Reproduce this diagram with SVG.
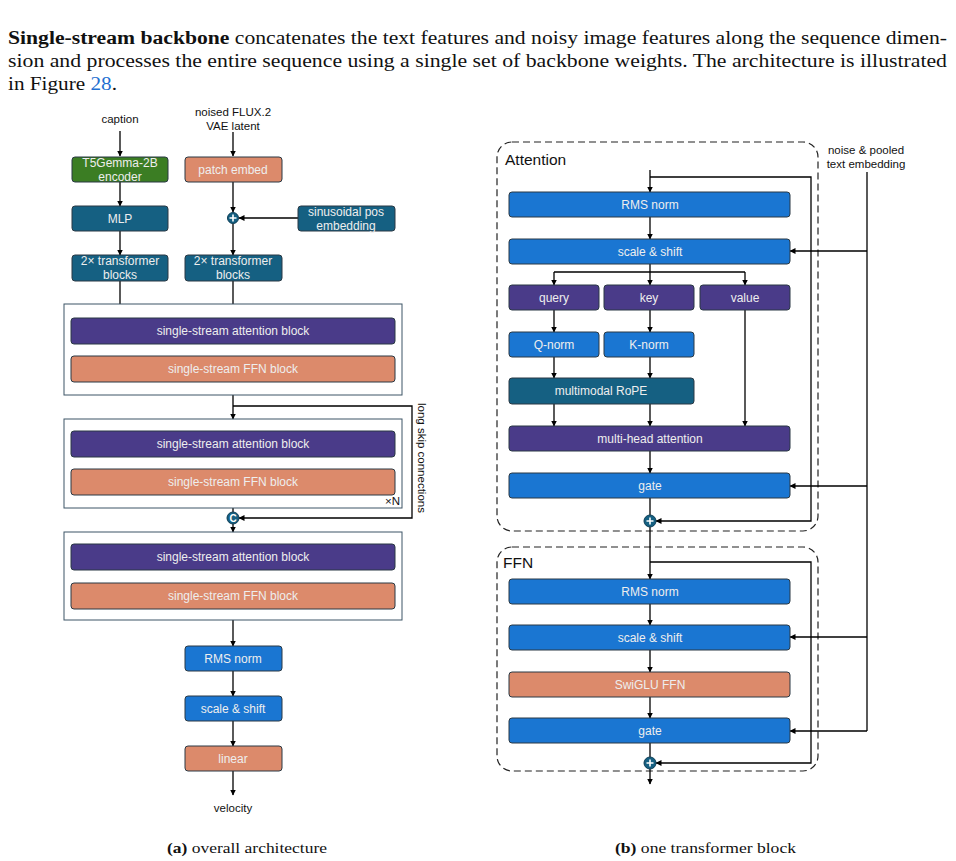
<svg xmlns="http://www.w3.org/2000/svg" width="956" height="861" viewBox="0 0 956 861">
<defs>
<marker id="ah" viewBox="0 0 6 6" refX="5.5" refY="3" markerWidth="6" markerHeight="6" markerUnits="userSpaceOnUse" orient="auto">
<path d="M0,0 L6,3 L0,6 z" fill="#000"/>
</marker>
<style>
.para{font-family:"Liberation Serif","DejaVu Serif",serif;font-size:18.5px;fill:#111}
.cap{font-family:"Liberation Serif","DejaVu Serif",serif;font-size:15.5px;fill:#111}
.lbl{font-family:"Liberation Sans",Arial,sans-serif;font-size:11.5px;fill:#111}
.t{font-family:"Liberation Sans",Arial,sans-serif;font-size:12px;fill:#eeeeee;text-anchor:middle;dominant-baseline:central}
.hd{font-family:"Liberation Sans",Arial,sans-serif;font-size:15.5px;fill:#111}
.box{stroke:#2a3944;stroke-width:1}
.blue{fill:#1a76d2}
.purple{fill:#4a3b89}
.teal{fill:#156082}
.salmon{fill:#dc8a6b}
.green{fill:#3b7d23}
.cont{fill:none;stroke:#3d5566;stroke-width:1}
.dash{fill:none;stroke:#222;stroke-width:1.2;stroke-dasharray:7,4}
.ln{fill:none;stroke:#000;stroke-width:1.3}
.arr{fill:none;stroke:#000;stroke-width:1.3;marker-end:url(#ah)}
.op{fill:#156082;stroke:#0d3d55;stroke-width:1}
.opt{font-family:"Liberation Sans",Arial,sans-serif;font-size:10px;font-weight:bold;fill:#fff;text-anchor:middle;dominant-baseline:central}
</style>
</defs>
<rect width="956" height="861" fill="#fff"/>

<!-- paragraph -->
<text class="para" x="8" y="44" textLength="939" lengthAdjust="spacingAndGlyphs"><tspan font-weight="bold">Single-stream backbone</tspan> concatenates the text features and noisy image features along the sequence dimen-</text>
<text class="para" x="8" y="67" textLength="939" lengthAdjust="spacingAndGlyphs">sion and processes the entire sequence using a single set of backbone weights. The architecture is illustrated</text>
<text class="para" x="8" y="90" textLength="109" lengthAdjust="spacingAndGlyphs">in Figure <tspan fill="#1f6fd1">28</tspan>.</text>

<!-- ===== (a) overall architecture ===== -->
<g id="connectors-a">
<line class="arr" x1="120" y1="131" x2="120" y2="156"/>
<line class="arr" x1="233" y1="132" x2="233" y2="156"/>
<line class="arr" x1="120" y1="182" x2="120" y2="206"/>
<line class="arr" x1="233" y1="182" x2="233" y2="212"/>
<line class="arr" x1="298" y1="218" x2="239" y2="218"/>
<line class="arr" x1="120" y1="231" x2="120" y2="255"/>
<line class="arr" x1="233" y1="224" x2="233" y2="255"/>
<line class="ln" x1="120" y1="281" x2="120" y2="304"/>
<line class="ln" x1="233" y1="281" x2="233" y2="304"/>
<line class="arr" x1="233" y1="395" x2="233" y2="419"/>
<polyline class="arr" points="233,406 412,406 412,518 239,518"/>
<line class="ln" x1="233" y1="508" x2="233" y2="512"/>
<line class="arr" x1="233" y1="524" x2="233" y2="532"/>
<line class="arr" x1="233" y1="620" x2="233" y2="646"/>
<line class="arr" x1="233" y1="671" x2="233" y2="696"/>
<line class="arr" x1="233" y1="721" x2="233" y2="746"/>
<line class="arr" x1="233" y1="771" x2="233" y2="795"/>
</g>

<text class="lbl" x="120" y="123" text-anchor="middle">caption</text>
<text class="lbl" x="233" y="116" text-anchor="middle">noised FLUX.2</text>
<text class="lbl" x="233" y="130" text-anchor="middle">VAE latent</text>

<g id="t5gemma"><rect class="box green" x="72" y="157" width="96" height="25" rx="3"/><text class="t" x="120" y="163">T5Gemma-2B</text><text class="t" x="120" y="177">encoder</text></g>
<g id="patch-embed"><rect class="box salmon" x="185" y="157" width="97" height="25" rx="3"/><text class="t" x="233" y="170">patch embed</text></g>
<g id="mlp"><rect class="box teal" x="72" y="206" width="96" height="25" rx="3"/><text class="t" x="120" y="219">MLP</text></g>
<g id="plus-a"><circle class="op" cx="233" cy="218" r="5.5"/><path d="M229.5,218 H236.5 M233,214.5 V221.5" stroke="#fff" stroke-width="1.6"/></g>
<g id="sinus"><rect class="box teal" x="298" y="206" width="97" height="25" rx="3"/><text class="t" x="346" y="212">sinusoidal pos</text><text class="t" x="346" y="226">embedding</text></g>
<g id="tb-left"><rect class="box teal" x="72" y="255" width="96" height="26" rx="3"/><text class="t" x="120" y="261">2× transformer</text><text class="t" x="120" y="275">blocks</text></g>
<g id="tb-right"><rect class="box teal" x="185" y="255" width="97" height="26" rx="3"/><text class="t" x="233" y="261">2× transformer</text><text class="t" x="233" y="275">blocks</text></g>

<g id="stack1">
<rect class="cont" x="64" y="304" width="338" height="91"/>
<rect class="box purple" x="71" y="318" width="324" height="26" rx="3"/><text class="t" x="233" y="331">single-stream attention block</text>
<rect class="box salmon" x="71" y="356" width="324" height="26" rx="3"/><text class="t" x="233" y="369">single-stream FFN block</text>
</g>
<g id="stack2">
<rect class="cont" x="64" y="419" width="338" height="89"/>
<rect class="box purple" x="71" y="431" width="324" height="26" rx="3"/><text class="t" x="233" y="444">single-stream attention block</text>
<rect class="box salmon" x="71" y="469" width="324" height="26" rx="3"/><text class="t" x="233" y="482">single-stream FFN block</text>
<text class="lbl" x="400" y="505" text-anchor="end" font-size="11">×N</text>
</g>
<g id="concat"><circle class="op" cx="233" cy="518" r="6"/><text class="opt" x="233" y="518.5" font-size="9">C</text></g>
<text class="lbl" transform="translate(418,403) rotate(90)" font-size="11.5">long skip connections</text>
<g id="stack3">
<rect class="cont" x="64" y="532" width="338" height="88"/>
<rect class="box purple" x="71" y="544" width="324" height="26" rx="3"/><text class="t" x="233" y="557">single-stream attention block</text>
<rect class="box salmon" x="71" y="583" width="324" height="26" rx="3"/><text class="t" x="233" y="596">single-stream FFN block</text>
</g>
<g id="rms-a"><rect class="box blue" x="185" y="646" width="97" height="25" rx="3"/><text class="t" x="233" y="659">RMS norm</text></g>
<g id="ss-a"><rect class="box blue" x="185" y="696" width="97" height="25" rx="3"/><text class="t" x="233" y="709">scale &amp; shift</text></g>
<g id="linear-a"><rect class="box salmon" x="185" y="746" width="97" height="25" rx="3"/><text class="t" x="233" y="759">linear</text></g>
<text class="lbl" x="233" y="812" text-anchor="middle">velocity</text>

<text class="cap" x="167" y="853" textLength="160" lengthAdjust="spacingAndGlyphs"><tspan font-weight="bold">(a)</tspan> overall architecture</text>

<!-- ===== (b) one transformer block ===== -->
<rect class="dash" x="497" y="142" width="321" height="389" rx="15"/>
<text class="hd" x="505" y="165">Attention</text>
<rect class="dash" x="497" y="547" width="321" height="224" rx="15"/>
<text class="hd" x="503" y="568">FFN</text>
<text class="lbl" x="866" y="154" text-anchor="middle">noise &amp; pooled</text>
<text class="lbl" x="866" y="168" text-anchor="middle">text embedding</text>

<g id="connectors-b">
<line class="arr" x1="650" y1="170" x2="650" y2="192"/>
<polyline class="arr" points="650,177 811,177 811,521 656,521"/>
<line class="arr" x1="650" y1="217" x2="650" y2="239"/>
<line class="ln" x1="867" y1="172" x2="867" y2="731"/>
<line class="arr" x1="867" y1="251" x2="790" y2="251"/>
<line class="arr" x1="867" y1="486" x2="790" y2="486"/>
<line class="arr" x1="867" y1="637" x2="790" y2="637"/>
<line class="arr" x1="867" y1="731" x2="790" y2="731"/>
<line class="ln" x1="650" y1="264" x2="650" y2="272"/>
<polyline class="arr" points="554,272 554,285"/>
<line class="ln" x1="554" y1="272" x2="745" y2="272"/>
<line class="arr" x1="650" y1="272" x2="650" y2="285"/>
<line class="arr" x1="745" y1="272" x2="745" y2="285"/>
<line class="arr" x1="554" y1="310" x2="554" y2="332"/>
<line class="arr" x1="650" y1="310" x2="650" y2="332"/>
<line class="arr" x1="554" y1="357" x2="554" y2="378"/>
<line class="arr" x1="650" y1="357" x2="650" y2="378"/>
<line class="arr" x1="554" y1="404" x2="554" y2="426"/>
<line class="arr" x1="650" y1="404" x2="650" y2="426"/>
<line class="arr" x1="745" y1="310" x2="745" y2="426"/>
<line class="arr" x1="650" y1="451" x2="650" y2="473"/>
<line class="ln" x1="650" y1="498" x2="650" y2="515"/>
<line class="arr" x1="650" y1="527" x2="650" y2="579"/>
<polyline class="arr" points="650,562 811,562 811,763 656,763"/>
<line class="arr" x1="650" y1="604" x2="650" y2="625"/>
<line class="arr" x1="650" y1="650" x2="650" y2="672"/>
<line class="arr" x1="650" y1="697" x2="650" y2="718"/>
<line class="ln" x1="650" y1="743" x2="650" y2="757"/>
<line class="arr" x1="650" y1="769" x2="650" y2="784"/>
</g>

<g id="rms-b1"><rect class="box blue" x="509" y="192" width="281" height="25" rx="3"/><text class="t" x="650" y="205">RMS norm</text></g>
<g id="ss-b1"><rect class="box blue" x="509" y="239" width="281" height="25" rx="3"/><text class="t" x="650" y="252">scale &amp; shift</text></g>
<g id="query"><rect class="box purple" x="509" y="285" width="90" height="25" rx="3"/><text class="t" x="554" y="298">query</text></g>
<g id="key"><rect class="box purple" x="604" y="285" width="90" height="25" rx="3"/><text class="t" x="649" y="298">key</text></g>
<g id="value"><rect class="box purple" x="700" y="285" width="90" height="25" rx="3"/><text class="t" x="745" y="298">value</text></g>
<g id="qnorm"><rect class="box blue" x="509" y="332" width="90" height="25" rx="3"/><text class="t" x="554" y="345">Q-norm</text></g>
<g id="knorm"><rect class="box blue" x="604" y="332" width="90" height="25" rx="3"/><text class="t" x="649" y="345">K-norm</text></g>
<g id="rope"><rect class="box teal" x="509" y="378" width="185" height="26" rx="3"/><text class="t" x="601" y="391">multimodal RoPE</text></g>
<g id="mha"><rect class="box purple" x="509" y="426" width="281" height="25" rx="3"/><text class="t" x="650" y="439">multi-head attention</text></g>
<g id="gate-b1"><rect class="box blue" x="509" y="473" width="281" height="25" rx="3"/><text class="t" x="650" y="486">gate</text></g>
<g id="plus-b1"><circle class="op" cx="650" cy="521" r="6"/><path d="M646.5,521 H653.5 M650,517.5 V524.5" stroke="#fff" stroke-width="1.6"/></g>

<g id="rms-b2"><rect class="box blue" x="509" y="579" width="281" height="25" rx="3"/><text class="t" x="650" y="592">RMS norm</text></g>
<g id="ss-b2"><rect class="box blue" x="509" y="625" width="281" height="25" rx="3"/><text class="t" x="650" y="638">scale &amp; shift</text></g>
<g id="swiglu"><rect class="box salmon" x="509" y="672" width="281" height="25" rx="3"/><text class="t" x="650" y="685">SwiGLU FFN</text></g>
<g id="gate-b2"><rect class="box blue" x="509" y="718" width="281" height="25" rx="3"/><text class="t" x="650" y="731">gate</text></g>
<g id="plus-b2"><circle class="op" cx="650" cy="763" r="6"/><path d="M646.5,763 H653.5 M650,759.5 V766.5" stroke="#fff" stroke-width="1.6"/></g>

<text class="cap" x="615" y="853" textLength="181" lengthAdjust="spacingAndGlyphs"><tspan font-weight="bold">(b)</tspan> one transformer block</text>
</svg>
